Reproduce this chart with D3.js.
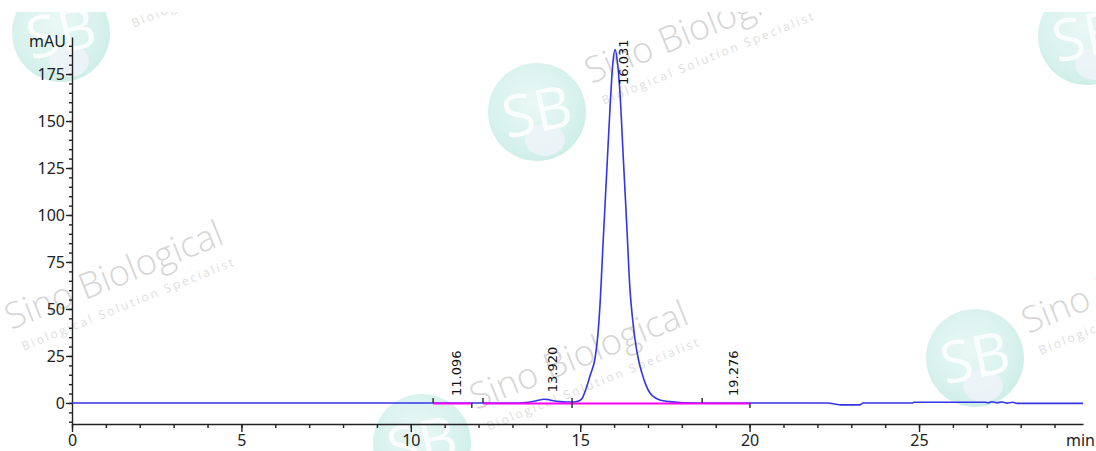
<!DOCTYPE html>
<html>
  <head>
    <meta charset="utf-8">
    <title>chromatogram</title>
    <script src="https://d3js.org/d3.v7.min.js"></script>
    <style type="text/css">
    body { margin: 0; background: #fff; }
    .axis path, .axis line { stroke: #222; stroke-width: 1.4; }
    .axis text { font-family: "Noto Sans", sans-serif; font-size: 16px; fill: #222; }
    .peak-label { font-family: "DejaVu Sans", sans-serif; font-size: 13px; fill: #111; }
    </style>
  </head>
  <body>
    <div id="chart"></div>
    <script>
    // axis ticks
    var xTicks = [0, 5, 10, 15, 20, 25];
    var yTicks = [0, 25, 50, 75, 100, 125, 150, 175];

    // detector trace (min, mAU)
    var traceTime = [0, 10, 13.2, 13.4, 13.6, 13.8, 13.92, 14.05, 14.2, 14.4, 14.6, 14.8, 14.95, 15.05, 15.19,
      15.3, 15.44, 15.52, 15.58, 15.68, 15.78, 15.88, 15.96, 16.03, 16.1, 16.17, 16.27, 16.37, 16.47,
      16.55, 16.62, 16.72, 16.82, 16.94, 17.06, 17.2, 17.35, 17.5, 17.65, 17.85, 18.1, 18.5,
      22.3, 22.5, 22.7, 23.26, 23.35, 24.8, 24.85, 26.95, 27.05, 27.15, 27.3, 27.45, 27.6, 27.75, 27.9, 28.0, 29.84];
    var traceMAU = [0, 0, 0, 0.2, 0.8, 1.6, 2.0, 1.8, 1.2, 0.7, 0.5, 0.5, 1.0, 2.2, 8.5,
      15, 24, 36, 51, 87, 122, 157, 180, 188, 181, 166, 131, 96, 60,
      44, 33.5, 23, 16, 9.5, 5.3, 2.9, 1.6, 1.0, 0.7, 0.3, 0.1, 0,
      0, -0.6, -1.0, -1.0, 0, 0, 0.4, 0.4, 0.1, 0.6, 0.1, 0.5, -0.1, 0.4, -0.2, -0.2, -0.2];

    // peaks
    var peakTimes = [11.096, 13.920, 16.031, 19.276];
    var peakHeights = [0, 2, 188, 0];

    // integration marks and baselines
    var markTimes = [10.66, 11.80, 12.13, 14.76, 18.60, 20.01];
    var markDirs = ["up", "down", "up", "both", "up", "down"];
    var baseStart = [10.66, 12.13, 14.76, 18.60];
    var baseEnd = [11.80, 14.76, 18.60, 20.01];

    var width = 1096, height = 451;

    var svg = d3.select("#chart").append("svg")
        .attr("width", width)
        .attr("height", height);

    var x = d3.scaleLinear().domain([0, 29.84]).range([72, 1083]);
    var y = d3.scaleLinear().domain([-11.2, 194.7]).range([424, 37]);

    // ---- watermark layer ----
    var defs = svg.append("defs");
    var grad = defs.append("radialGradient").attr("id", "sbgrad")
        .attr("cx", "45%").attr("cy", "40%").attr("r", "60%");
    grad.append("stop").attr("offset", "0%").attr("stop-color", "#e9f8f5");
    grad.append("stop").attr("offset", "70%").attr("stop-color", "#d9f2ed");
    grad.append("stop").attr("offset", "100%").attr("stop-color", "#cfeee8");
    defs.append("clipPath").attr("id", "wmclip")
      .append("rect").attr("x", 0).attr("y", 12).attr("width", width).attr("height", height - 12);

    var wm = svg.append("g").attr("clip-path", "url(#wmclip)");

    var logos = [[61, 33], [537, 112], [1087, 36], [975, 358], [422, 443]];
    logos.forEach(function(p) {
      var g = wm.append("g").attr("transform", "translate(" + p[0] + "," + p[1] + ")");
      g.append("circle").attr("r", 49).attr("fill", "url(#sbgrad)");
      g.append("ellipse").attr("cx", 8).attr("cy", 28).attr("rx", 20).attr("ry", 16)
        .attr("fill", "#f0f4fa").attr("opacity", 0.8);
      g.append("text").attr("transform", "rotate(-12)")
        .attr("text-anchor", "middle").attr("y", 20)
        .style("font-family", "'Open Sans', sans-serif").style("font-size", "58px")
        .style("font-weight", 400).style("fill", "#fff").style("opacity", 0.85)
        .text("SB");
    });

    var words = [[11, 330], [476, 410], [591, 84], [121, 7], [1028, 334]];
    words.forEach(function(p) {
      var g = wm.append("g").attr("transform", "translate(" + p[0] + "," + p[1] + ") rotate(-22)");
      g.append("text")
        .style("font-family", "'Open Sans', sans-serif").style("font-size", "36px")
        .style("font-weight", 300).style("fill", "#d6d6d6")
        .text("Sino Biological");
      g.append("text").attr("x", 4).attr("y", 24)
        .style("font-family", "'Open Sans', sans-serif").style("font-size", "12px")
        .style("letter-spacing", "2.4px").style("fill", "#dedede")
        .text("Biological Solution Specialist");
    });

    // ---- axes ----
    svg.append("g").attr("class", "axis")
        .attr("transform", "translate(0," + y.range()[0] + ")")
        .call(d3.axisBottom(x).tickValues(xTicks).tickSize(8).tickSizeOuter(0).tickPadding(3)
          .tickFormat(d3.format("d")));
    svg.append("g").attr("class", "axis")
        .attr("transform", "translate(0," + y.range()[0] + ")")
        .call(d3.axisBottom(x).tickValues(d3.range(0, 30, 1)).tickSize(4).tickSizeOuter(0).tickFormat(""))
        .select(".domain").remove();

    svg.append("g").attr("class", "axis")
        .attr("transform", "translate(" + x.range()[0] + ",0)")
        .call(d3.axisLeft(y).tickValues(yTicks).tickSize(6).tickSizeOuter(0).tickPadding(1));
    svg.append("g").attr("class", "axis")
        .attr("transform", "translate(" + x.range()[0] + ",0)")
        .call(d3.axisLeft(y).tickValues(d3.range(-10, 195, 5)).tickSize(3).tickSizeOuter(0).tickFormat(""))
        .select(".domain").remove();

    svg.append("text").attr("x", 66).attr("y", 47).attr("text-anchor", "end")
      .style("font-family", "'Noto Sans', sans-serif").style("font-size", "16px").style("fill", "#222")
      .text("mAU");
    svg.append("text").attr("x", 1095).attr("y", 446).attr("text-anchor", "end")
      .style("font-family", "'Noto Sans', sans-serif").style("font-size", "16px").style("fill", "#222")
      .text("min");

    // ---- trace ----
    var pts = traceTime.map(function(t, i) { return [t, traceMAU[i]]; });
    var line = d3.line()
        .x(function(d) { return x(d[0]); })
        .y(function(d) { return y(d[1]); })
        .curve(d3.curveMonotoneX);
    svg.append("path").datum(pts)
      .attr("d", line)
      .style("fill", "none").style("stroke", "#3434e8").style("stroke-width", 1.6);

    // ---- baselines (drawn over the trace) ----
    svg.selectAll(".base").data(baseStart).enter().append("line")
      .attr("class", "base")
      .attr("x1", function(d) { return x(d); })
      .attr("x2", function(d, i) { return x(baseEnd[i]); })
      .attr("y1", Math.round(y(0)) + 0.5).attr("y2", Math.round(y(0)) + 0.5)
      .style("stroke", "#ff00ff").style("stroke-width", 2);

    // ---- integration marks ----
    svg.selectAll(".mark").data(markTimes).enter().append("line")
      .attr("class", "mark")
      .attr("x1", function(d) { return x(d); })
      .attr("x2", function(d) { return x(d); })
      .attr("y1", function(d, i) { return markDirs[i] === "down" ? y(0) : y(0) - 5; })
      .attr("y2", function(d, i) { return markDirs[i] === "up" ? y(0) : y(0) + 5; })
      .style("stroke", "#333").style("stroke-width", 1.5);

    // ---- peak labels ----
    svg.selectAll(".peak-label").data(peakTimes).enter().append("text")
      .attr("class", "peak-label")
      .attr("transform", function(d, i) {
        var by = Math.max(y(peakHeights[i]) - 7, y.range()[1] + 48);
        return "translate(" + (x(d) + 13) + "," + by + ") rotate(-90)";
      })
      .text(function(d) { return d3.format(".3f")(d); });
    </script>
  </body>
</html>
